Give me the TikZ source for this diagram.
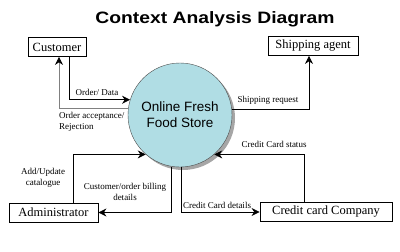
\documentclass[tikz,border=0pt]{standalone}
\usepackage{fontspec}
\setmainfont{Liberation Serif}
\newfontfamily\headfont{Liberation Sans}
\usetikzlibrary{arrows.meta}
\usetikzlibrary{shadows}
\definecolor{storeblue}{RGB}{176,221,228}
\tikzset{
  entity/.style={draw, line width=0.8pt, inner sep=0pt, minimum height=19pt,
    font=\fontsize{12.5}{14}\selectfont},
  flow/.style={line width=0.8pt, -{Stealth[length=8pt,width=8pt]}},
  flowtext/.style={font=\fontsize{9}{11}\selectfont, inner sep=0pt, align=center}
}

\begin{document}
\begin{tikzpicture}[x=1pt,y=-1pt]
\useasboundingbox (0,0) rectangle (400,252);
\node[font=\headfont\bfseries\fontsize{16.5}{18}\selectfont] (title) at (215,19) {\scalebox{1.17}[1]{Context Analysis Diagram}};

% the store in the middle
\node[circle, draw=black!70, fill=storeblue, minimum size=104pt, inner sep=0pt, align=center,
  font=\headfont\fontsize{13.5}{16}\selectfont,
  drop shadow={shadow xshift=3pt, shadow yshift=-3pt, fill=gray!70, opacity=1}] (store) at (180,115) {Online Fresh\\Food Store};

% outside parties
\node[entity, minimum width=58pt] (cust) at (57,47) {Customer};
\node[entity, minimum width=90pt] (ship) at (313,46) {Shipping agent};
\node[entity, minimum width=89pt] (admin) at (53.5,212.5) {Administrator};
\node[entity, minimum width=132pt] (ccard) at (326,212) {Credit card Company};

% data flows
\draw[flow] ([xshift=12pt]cust.south) |- (store.163);
\draw[flow, draw=gray, -{Stealth[length=8pt,width=8pt,black]}] (store.173) -| ([xshift=2pt]cust.south);
\draw[flow] (store.6) -| ([xshift=-4pt]ship.south);
\draw[flow] ([xshift=19.5pt]admin.north) |- (store.229);
\draw[flow] ([xshift=-22pt]ccard.north) |- (store.-49);
\draw[flow] (store.261) |- (admin.east);
\draw[flow] (store.271) |- (ccard.west);

\node[flowtext] (lorder) at (97,92) {Order/ Data};
\node[flowtext, align=left, anchor=north west] (lreject) at (59,112) {Order acceptance/\\Rejection};
\node[flowtext] (lship) at (268,100) {Shipping request};
\node[flowtext] (lcat) at (43,178) {Add/Update\\catalogue};
\node[flowtext] (lbill) at (125,192) {Customer/order billing\\details};
\node[flowtext] (lccd) at (217,205) {Credit Card details};
\node[flowtext] (lccs) at (274,144) {Credit Card status};
\end{tikzpicture}
\end{document}
